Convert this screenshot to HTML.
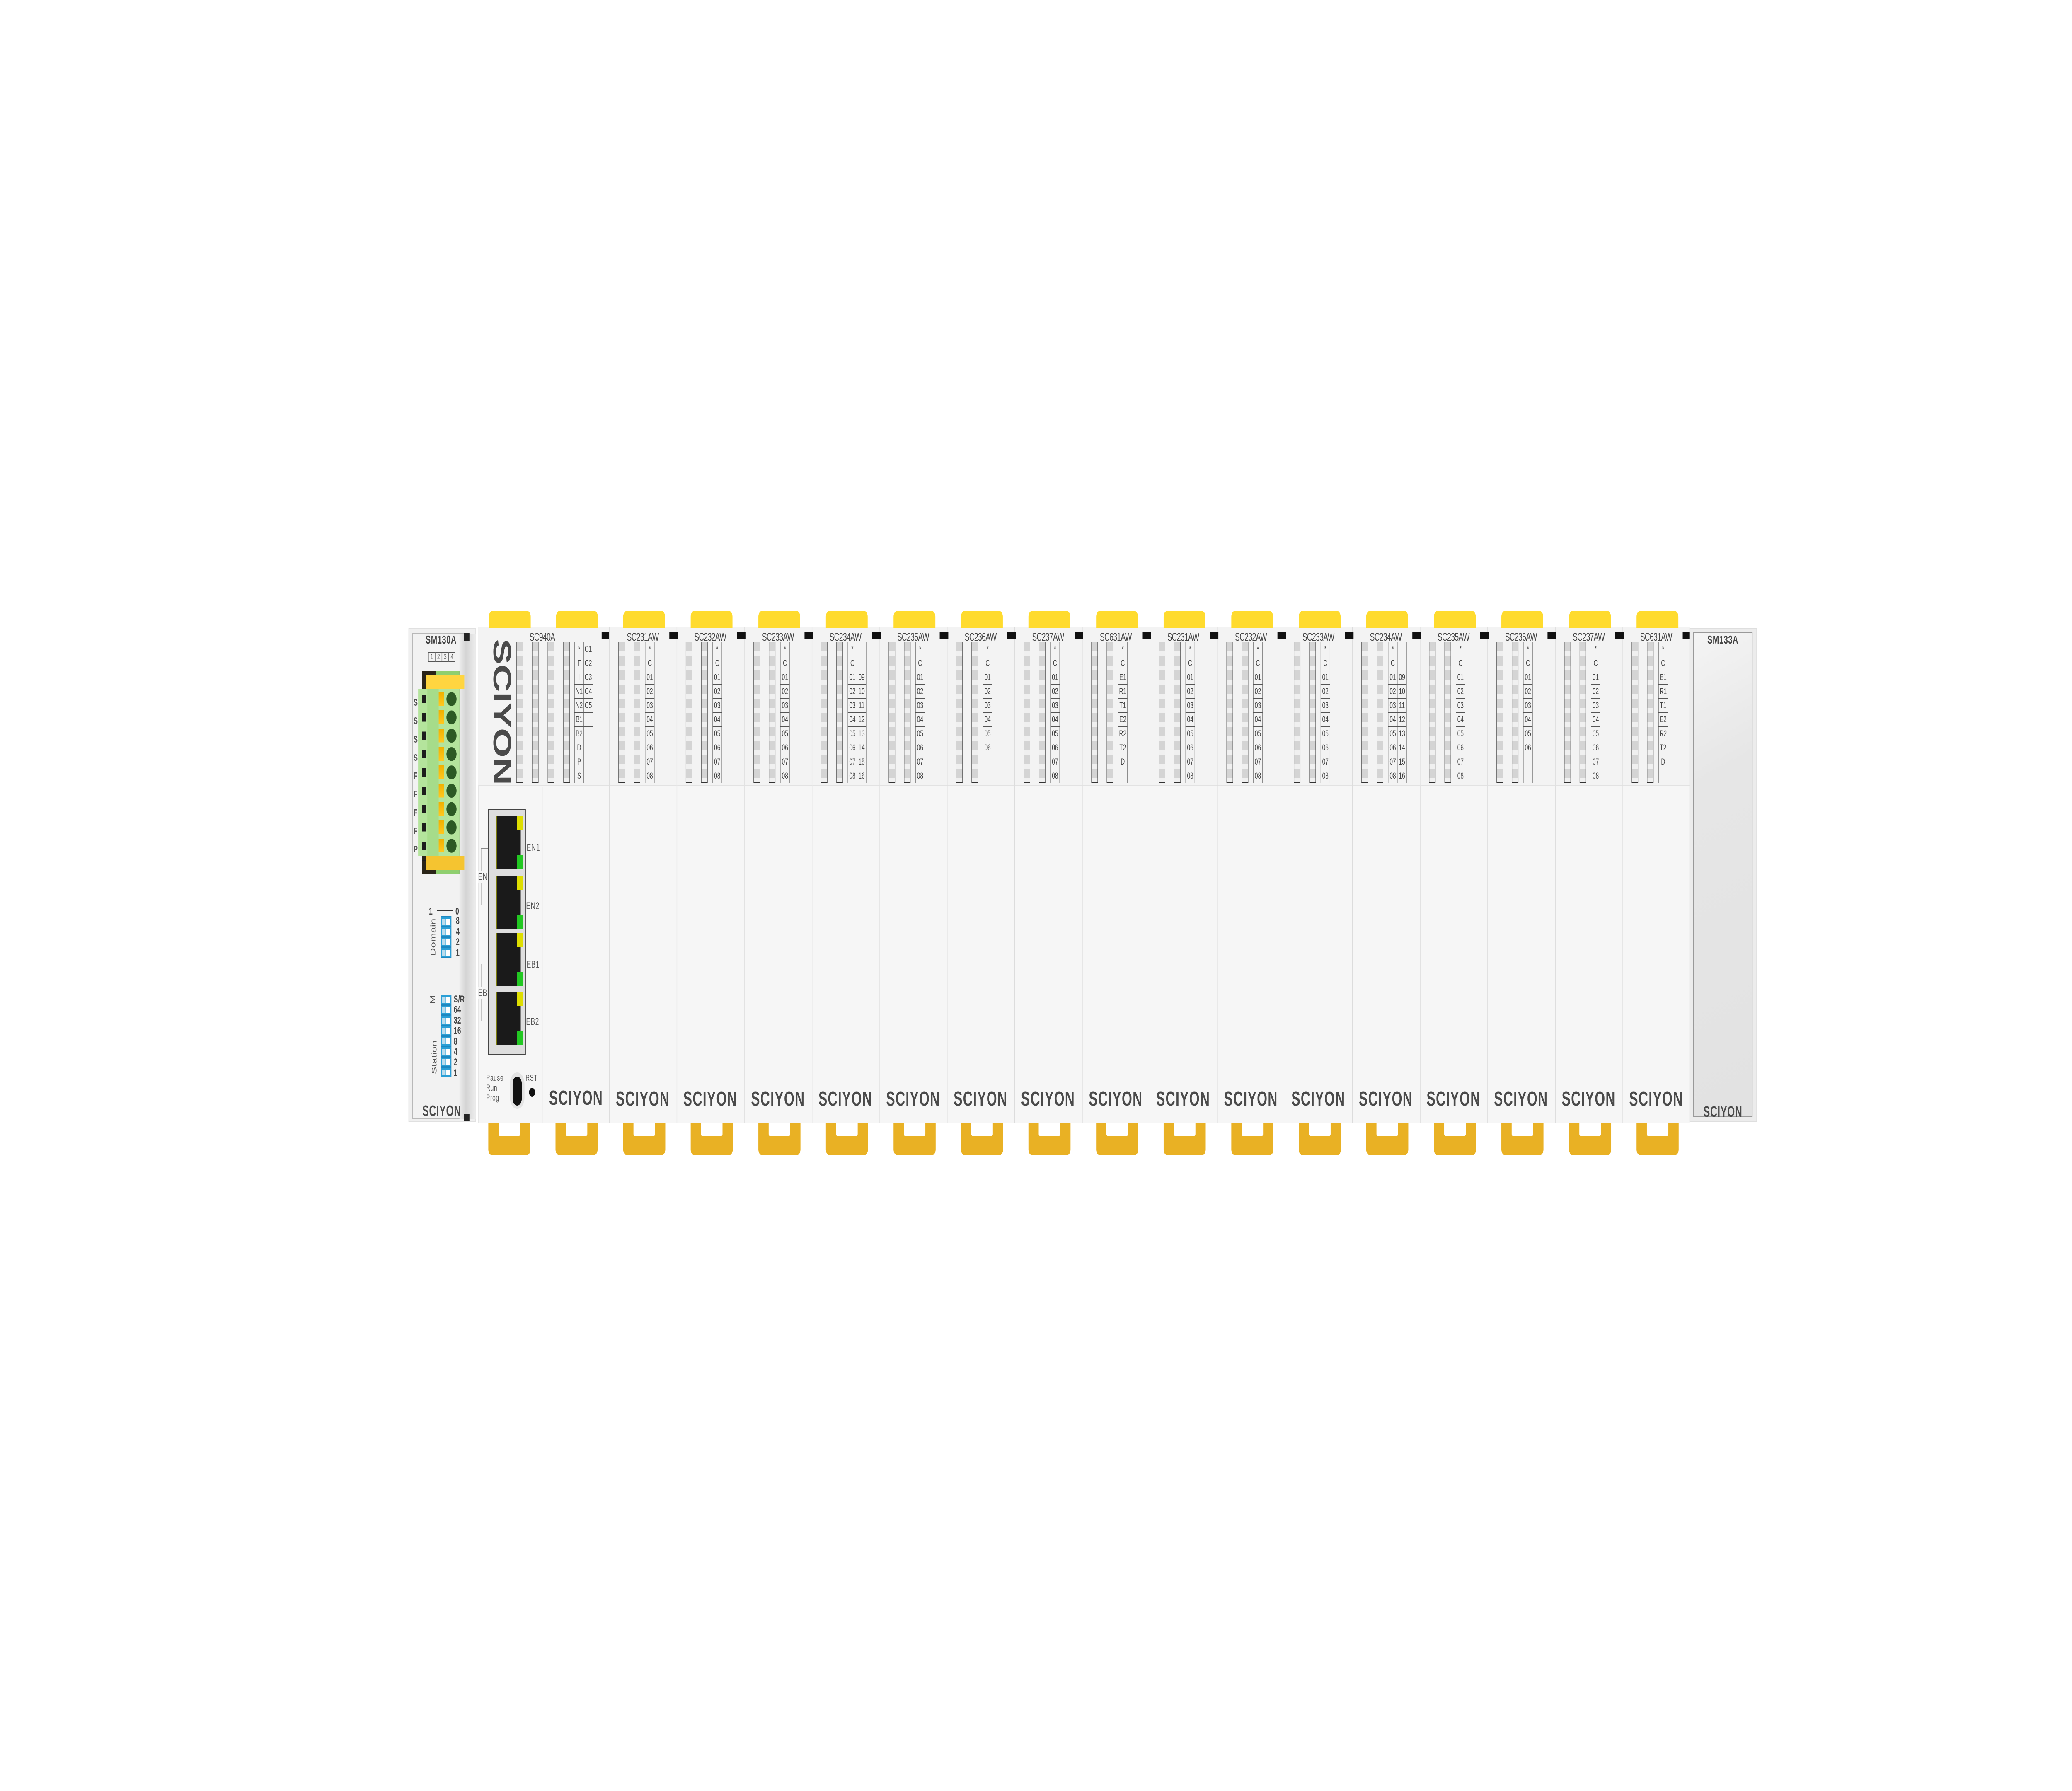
<!DOCTYPE html>
<html><head><meta charset="utf-8"><meta name="viewport" content="width=7680, height=4322, initial-scale=1"><style>
*{margin:0;padding:0;box-sizing:border-box}
html,body{margin:0;overflow:hidden;background:#fff}
#wrap{width:7680px;height:4322px;background:#fff;position:absolute;left:0;top:0;overflow:hidden;transform-origin:0 0;font-family:"Liberation Sans",sans-serif;color:#444}
.a{position:absolute}
.ct{position:absolute;top:1474px;width:155px;height:42px;background:#ffdb2e;border-radius:14px 14px 0 0}
.cb{position:absolute;top:2710px;width:156px;height:78px;background:#e9b124;border-radius:0 0 14px 14px}
.cb i{position:absolute;left:38px;top:0;width:80px;height:31px;background:#fff;border-radius:0 0 4px 4px}
.m{position:absolute;top:1512px;width:251px;height:1198px;background:#f6f6f6;border-left:2px solid #dcdcdc}
.m .up{position:absolute;left:0;top:0;width:249px;height:385px;background:#f3f3f3;border-bottom:3px solid #e2e2e2}
.m .lb{position:absolute;left:0;width:245px;top:10px;text-align:center;font-size:27px;letter-spacing:-1px}
.st{position:absolute;top:37px;width:24px;height:340px;border:1.5px solid #333;background:repeating-linear-gradient(#d4d4d4 0,#d4d4d4 22px,#f0f0f0 22px,#f0f0f0 34px)}
.tb{position:absolute;left:131px;top:37px;border-collapse:collapse}
.tb td{width:34px;height:34px;border:1.5px solid #555;font-size:21px;text-align:center;color:#444;padding:0}
.lg{position:absolute;left:0;width:245px;top:1112px;text-align:center;font-size:49px;font-weight:bold;color:#4a4a4a;letter-spacing:2px}
.nt{position:absolute;top:1525px;width:32px;height:18px;background:#111}
.rj{position:absolute;left:1838px;width:100px;height:128px}
.rj b{position:absolute;left:0;top:0;width:78px;height:128px;background:#1a1a1a;border-left:3px solid #c8c800}
.rj .y{position:absolute;left:78px;top:0;width:22px;height:34px;background:#dede00}
.rj .g{position:absolute;left:78px;top:94px;width:22px;height:34px;background:#22c822}
.rj .k{position:absolute;left:78px;top:34px;width:14px;height:60px;background:#1a1a1a}
.eth{position:absolute;font-size:24px;color:#555;letter-spacing:1px}
.dp{position:absolute;left:1633px;width:40px;height:25px;background:#2a9fd6;border:2px solid #1e88c0}
.dp i{position:absolute;right:3px;top:4px;width:14px;height:14px;background:#fff}
.dp s{position:absolute;left:3px;top:4px;width:14px;height:14px;background:#bde}
.dl{position:absolute;left:1690px;font-size:24px;font-weight:bold;color:#444}
</style></head><body>
<div id="wrap">

<!-- SM130A -->
<div class="a" style="left:1514px;top:1516px;width:250px;height:1192px;background:#f0f0f0;border:2px solid #e0e0e0"></div>
<div class="a" style="left:1528px;top:1528px;width:205px;height:1172px;border:2px solid #b8b8b8;background:#f2f2f2"></div>
<div class="a" style="left:1703px;top:1530px;width:60px;height:1170px;background:linear-gradient(90deg,#ececec,#d4d4d4 40%,#ededed)"></div>
<div class="a" style="left:1720px;top:1528px;width:20px;height:18px;background:#222"></div>
<div class="a" style="left:1720px;top:2688px;width:20px;height:16px;background:#222"></div>
<div class="a" style="left:1560px;top:1528px;width:150px;text-align:center;font-size:28px;font-weight:bold;letter-spacing:1px">SM130A</div>
<div class="a" style="left:1588px;top:1574px;font-size:18px;color:#555;display:flex"><span style="border:1.5px solid #555;width:25px;text-align:center">1</span><span style="border:1.5px solid #555;width:25px;text-align:center">2</span><span style="border:1.5px solid #555;width:25px;text-align:center">3</span><span style="border:1.5px solid #555;width:25px;text-align:center">4</span></div>
<div class="a" style="left:1564px;top:1619px;width:139px;height:489px;background:#2a2418"></div>
<div class="a" style="left:1617px;top:1619px;width:86px;height:489px;background:#8fcf6f"></div>
<div class="a" style="left:1550px;top:1662px;width:153px;height:403px;background:#b4e49c"></div>
<div class="a" style="left:1584px;top:1662px;width:42px;height:403px;background:#a6dc8a"></div>
<div class="a" style="left:1580px;top:1628px;width:141px;height:34px;background:#ffd540"></div>
<div class="a" style="left:1580px;top:2066px;width:141px;height:34px;background:#f5c430"></div>
<div class="a" style="left:1533px;top:1673px;font-size:23px;font-weight:bold;line-height:44.25px;color:#555">S<br>S<br>S<br>S<br>F<br>F<br>F<br>F<br>P</div>
<div class="a" style="left:1565px;top:1677px;width:14px;height:400px;background:repeating-linear-gradient(#1c1c1c 0,#1c1c1c 20px,transparent 20px,transparent 44.25px)"></div>
<div class="a" style="left:1626px;top:1670px;width:20px;height:392px;background:repeating-linear-gradient(#f0b000 0,#ffc820 33px,transparent 33px,transparent 44.25px)"></div>
<div class="a" style="left:1654px;top:1670px;width:39px;height:392px;background:radial-gradient(ellipse 19px 17px at 50% 17px,#2d5a24 97%,transparent 100%) 0 0/39px 44.25px repeat-y"></div>

<div class="a" style="left:1590px;top:2186px;font-size:24px;font-weight:bold;color:#444">1</div>
<div class="a" style="left:1620px;top:2196px;width:60px;height:3px;background:#333"></div>
<div class="a" style="left:1688px;top:2186px;font-size:24px;font-weight:bold;color:#444">0</div>
<div class="a" style="left:1550px;top:2246px;width:110px;font-size:26px;transform:rotate(-90deg);text-align:center;color:#555">Domain</div>
<div class="dp" style="top:2211px"><s></s><i></i></div><div class="dp" style="top:2236px"><s></s><i></i></div><div class="dp" style="top:2261px"><s></s><i></i></div><div class="dp" style="top:2286px"><s></s><i></i></div>
<div class="dl" style="top:2210px;line-height:25.5px">8<br>4<br>2<br>1</div>
<div class="a" style="left:1594px;top:2398px;font-size:24px;transform:rotate(-90deg);color:#555">M</div>
<div class="a" style="left:1560px;top:2536px;width:100px;font-size:26px;transform:rotate(-90deg);text-align:center;color:#555">Station</div>
<div class="dp" style="top:2400px"><s></s><i></i></div><div class="dp" style="top:2425px"><s></s><i></i></div><div class="dp" style="top:2450px"><s></s><i></i></div><div class="dp" style="top:2475px"><s></s><i></i></div><div class="dp" style="top:2500px"><s></s><i></i></div><div class="dp" style="top:2525px"><s></s><i></i></div><div class="dp" style="top:2550px"><s></s><i></i></div><div class="dp" style="top:2575px"><s></s><i></i></div>
<div class="dl" style="left:1682px;top:2399px;line-height:25.4px">S/R<br>64<br>32<br>16<br>8<br>4<br>2<br>1</div>
<div class="a" style="left:1560px;top:2660px;width:155px;text-align:center;font-size:36px;font-weight:bold;color:#4a4a4a;letter-spacing:1px">SCIYON</div>

<!-- SC940A -->
<div class="a" style="left:1773px;top:1512px;width:487px;height:1198px;background:#f6f6f6;border-left:2px solid #dcdcdc"></div>
<div class="a" style="left:1773px;top:1512px;width:485px;height:385px;background:#f3f3f3;border-bottom:3px solid #e2e2e2"></div>
<div class="a" style="left:2009px;top:1900px;width:2px;height:810px;background:#dcdcdc"></div>
<div class="a" style="left:1935px;top:1522px;width:150px;text-align:center;font-size:27px;letter-spacing:-1px">SC940A</div>
<div class="a" style="left:1686px;top:1671px;width:348px;text-align:center;font-size:92px;font-weight:bold;color:#4a4a4a;transform:rotate(90deg);line-height:90px">SCIYON</div>
<div class="st" style="left:1914px;top:1549px"></div>
<div class="st" style="left:1972px;top:1549px"></div>
<div class="st" style="left:2030px;top:1549px"></div>
<div class="st" style="left:2088px;top:1549px"></div>
<table class="tb" style="left:2129px;top:1549px"><tr><td>*</td><td>C1</td></tr><tr><td>F</td><td>C2</td></tr><tr><td>I</td><td>C3</td></tr><tr><td>N1</td><td>C4</td></tr><tr><td>N2</td><td>C5</td></tr><tr><td>B1</td><td></td></tr><tr><td>B2</td><td></td></tr><tr><td>D</td><td></td></tr><tr><td>P</td><td></td></tr><tr><td>S</td><td></td></tr></table>
<div class="nt" style="left:2230px"></div>
<div class="a" style="left:1809px;top:1953px;width:140px;height:592px;border:2px solid #444;background:#dedede"></div>
<div class="rj" style="top:1970px"><b></b><span class="k"></span><span class="y"></span><span class="g"></span></div>
<div class="rj" style="top:2113px"><b></b><span class="k"></span><span class="y"></span><span class="g"></span></div>
<div class="rj" style="top:2252px"><b></b><span class="k"></span><span class="y"></span><span class="g"></span></div>
<div class="rj" style="top:2393px"><b></b><span class="k"></span><span class="y"></span><span class="g"></span></div>
<div class="eth" style="left:1952px;top:2032px">EN1</div>
<div class="eth" style="left:1950px;top:2173px">EN2</div>
<div class="eth" style="left:1952px;top:2314px">EB1</div>
<div class="eth" style="left:1950px;top:2452px">EB2</div>
<div class="a" style="left:1783px;top:2047px;width:25px;height:138px;border:1.5px solid #888;border-right:none;background:#f6f6f6"></div>
<div class="a" style="left:1783px;top:2326px;width:25px;height:139px;border:1.5px solid #888;border-right:none;background:#f6f6f6"></div>
<div class="eth" style="left:1772px;top:2102px;background:#f6f6f6">EN</div>
<div class="eth" style="left:1772px;top:2383px;background:#f6f6f6">EB</div>
<div class="a" style="left:1802px;top:2590px;font-size:21px;line-height:24px;color:#555;letter-spacing:1px">Pause<br>Run<br>Prog</div>
<div class="a" style="left:1890px;top:2588px;width:54px;height:88px;border-radius:27px;background:#e4e4e4"></div>
<div class="a" style="left:1900px;top:2598px;width:34px;height:70px;border-radius:17px;background:#111"></div>
<div class="a" style="left:1948px;top:2590px;font-size:21px;color:#555;letter-spacing:1px">RST</div>
<div class="a" style="left:1961px;top:2625px;width:22px;height:22px;border-radius:50%;background:#111"></div>
<div class="a" style="left:2010px;top:2622px;width:250px;text-align:center;font-size:49px;font-weight:bold;color:#4a4a4a;letter-spacing:2px">SCIYON</div>
<div class="ct" style="left:1812px"></div><div class="ct" style="left:2061px"></div>
<div class="cb" style="left:1810px"><i></i></div><div class="cb" style="left:2059px"><i></i></div>

<!-- I/O modules -->
<div class="m" style="left:2258px"><div class="up"></div><div class="lb">SC231AW</div><div class="st" style="left:32px"></div><div class="st" style="left:89px"></div><table class="tb"><tr><td>*</td></tr><tr><td>C</td></tr><tr><td>01</td></tr><tr><td>02</td></tr><tr><td>03</td></tr><tr><td>04</td></tr><tr><td>05</td></tr><tr><td>06</td></tr><tr><td>07</td></tr><tr><td>08</td></tr></table><div class="lg">SCIYON</div></div>
<div class="m" style="left:2508px"><div class="up"></div><div class="lb">SC232AW</div><div class="st" style="left:32px"></div><div class="st" style="left:89px"></div><table class="tb"><tr><td>*</td></tr><tr><td>C</td></tr><tr><td>01</td></tr><tr><td>02</td></tr><tr><td>03</td></tr><tr><td>04</td></tr><tr><td>05</td></tr><tr><td>06</td></tr><tr><td>07</td></tr><tr><td>08</td></tr></table><div class="lg">SCIYON</div></div>
<div class="m" style="left:2759px"><div class="up"></div><div class="lb">SC233AW</div><div class="st" style="left:32px"></div><div class="st" style="left:89px"></div><table class="tb"><tr><td>*</td></tr><tr><td>C</td></tr><tr><td>01</td></tr><tr><td>02</td></tr><tr><td>03</td></tr><tr><td>04</td></tr><tr><td>05</td></tr><tr><td>06</td></tr><tr><td>07</td></tr><tr><td>08</td></tr></table><div class="lg">SCIYON</div></div>
<div class="m" style="left:3009px"><div class="up"></div><div class="lb">SC234AW</div><div class="st" style="left:32px"></div><div class="st" style="left:89px"></div><table class="tb"><tr><td>*</td><td></td></tr><tr><td>C</td><td></td></tr><tr><td>01</td><td>09</td></tr><tr><td>02</td><td>10</td></tr><tr><td>03</td><td>11</td></tr><tr><td>04</td><td>12</td></tr><tr><td>05</td><td>13</td></tr><tr><td>06</td><td>14</td></tr><tr><td>07</td><td>15</td></tr><tr><td>08</td><td>16</td></tr></table><div class="lg">SCIYON</div></div>
<div class="m" style="left:3260px"><div class="up"></div><div class="lb">SC235AW</div><div class="st" style="left:32px"></div><div class="st" style="left:89px"></div><table class="tb"><tr><td>*</td></tr><tr><td>C</td></tr><tr><td>01</td></tr><tr><td>02</td></tr><tr><td>03</td></tr><tr><td>04</td></tr><tr><td>05</td></tr><tr><td>06</td></tr><tr><td>07</td></tr><tr><td>08</td></tr></table><div class="lg">SCIYON</div></div>
<div class="m" style="left:3510px"><div class="up"></div><div class="lb">SC236AW</div><div class="st" style="left:32px"></div><div class="st" style="left:89px"></div><table class="tb"><tr><td>*</td></tr><tr><td>C</td></tr><tr><td>01</td></tr><tr><td>02</td></tr><tr><td>03</td></tr><tr><td>04</td></tr><tr><td>05</td></tr><tr><td>06</td></tr><tr><td></td></tr><tr><td></td></tr></table><div class="lg">SCIYON</div></div>
<div class="m" style="left:3760px"><div class="up"></div><div class="lb">SC237AW</div><div class="st" style="left:32px"></div><div class="st" style="left:89px"></div><table class="tb"><tr><td>*</td></tr><tr><td>C</td></tr><tr><td>01</td></tr><tr><td>02</td></tr><tr><td>03</td></tr><tr><td>04</td></tr><tr><td>05</td></tr><tr><td>06</td></tr><tr><td>07</td></tr><tr><td>08</td></tr></table><div class="lg">SCIYON</div></div>
<div class="m" style="left:4011px"><div class="up"></div><div class="lb">SC631AW</div><div class="st" style="left:32px"></div><div class="st" style="left:89px"></div><table class="tb"><tr><td>*</td></tr><tr><td>C</td></tr><tr><td>E1</td></tr><tr><td>R1</td></tr><tr><td>T1</td></tr><tr><td>E2</td></tr><tr><td>R2</td></tr><tr><td>T2</td></tr><tr><td>D</td></tr><tr><td></td></tr></table><div class="lg">SCIYON</div></div>
<div class="m" style="left:4261px"><div class="up"></div><div class="lb">SC231AW</div><div class="st" style="left:32px"></div><div class="st" style="left:89px"></div><table class="tb"><tr><td>*</td></tr><tr><td>C</td></tr><tr><td>01</td></tr><tr><td>02</td></tr><tr><td>03</td></tr><tr><td>04</td></tr><tr><td>05</td></tr><tr><td>06</td></tr><tr><td>07</td></tr><tr><td>08</td></tr></table><div class="lg">SCIYON</div></div>
<div class="m" style="left:4512px"><div class="up"></div><div class="lb">SC232AW</div><div class="st" style="left:32px"></div><div class="st" style="left:89px"></div><table class="tb"><tr><td>*</td></tr><tr><td>C</td></tr><tr><td>01</td></tr><tr><td>02</td></tr><tr><td>03</td></tr><tr><td>04</td></tr><tr><td>05</td></tr><tr><td>06</td></tr><tr><td>07</td></tr><tr><td>08</td></tr></table><div class="lg">SCIYON</div></div>
<div class="m" style="left:4762px"><div class="up"></div><div class="lb">SC233AW</div><div class="st" style="left:32px"></div><div class="st" style="left:89px"></div><table class="tb"><tr><td>*</td></tr><tr><td>C</td></tr><tr><td>01</td></tr><tr><td>02</td></tr><tr><td>03</td></tr><tr><td>04</td></tr><tr><td>05</td></tr><tr><td>06</td></tr><tr><td>07</td></tr><tr><td>08</td></tr></table><div class="lg">SCIYON</div></div>
<div class="m" style="left:5012px"><div class="up"></div><div class="lb">SC234AW</div><div class="st" style="left:32px"></div><div class="st" style="left:89px"></div><table class="tb"><tr><td>*</td><td></td></tr><tr><td>C</td><td></td></tr><tr><td>01</td><td>09</td></tr><tr><td>02</td><td>10</td></tr><tr><td>03</td><td>11</td></tr><tr><td>04</td><td>12</td></tr><tr><td>05</td><td>13</td></tr><tr><td>06</td><td>14</td></tr><tr><td>07</td><td>15</td></tr><tr><td>08</td><td>16</td></tr></table><div class="lg">SCIYON</div></div>
<div class="m" style="left:5263px"><div class="up"></div><div class="lb">SC235AW</div><div class="st" style="left:32px"></div><div class="st" style="left:89px"></div><table class="tb"><tr><td>*</td></tr><tr><td>C</td></tr><tr><td>01</td></tr><tr><td>02</td></tr><tr><td>03</td></tr><tr><td>04</td></tr><tr><td>05</td></tr><tr><td>06</td></tr><tr><td>07</td></tr><tr><td>08</td></tr></table><div class="lg">SCIYON</div></div>
<div class="m" style="left:5513px"><div class="up"></div><div class="lb">SC236AW</div><div class="st" style="left:32px"></div><div class="st" style="left:89px"></div><table class="tb"><tr><td>*</td></tr><tr><td>C</td></tr><tr><td>01</td></tr><tr><td>02</td></tr><tr><td>03</td></tr><tr><td>04</td></tr><tr><td>05</td></tr><tr><td>06</td></tr><tr><td></td></tr><tr><td></td></tr></table><div class="lg">SCIYON</div></div>
<div class="m" style="left:5764px"><div class="up"></div><div class="lb">SC237AW</div><div class="st" style="left:32px"></div><div class="st" style="left:89px"></div><table class="tb"><tr><td>*</td></tr><tr><td>C</td></tr><tr><td>01</td></tr><tr><td>02</td></tr><tr><td>03</td></tr><tr><td>04</td></tr><tr><td>05</td></tr><tr><td>06</td></tr><tr><td>07</td></tr><tr><td>08</td></tr></table><div class="lg">SCIYON</div></div>
<div class="m" style="left:6014px"><div class="up"></div><div class="lb">SC631AW</div><div class="st" style="left:32px"></div><div class="st" style="left:89px"></div><table class="tb"><tr><td>*</td></tr><tr><td>C</td></tr><tr><td>E1</td></tr><tr><td>R1</td></tr><tr><td>T1</td></tr><tr><td>E2</td></tr><tr><td>R2</td></tr><tr><td>T2</td></tr><tr><td>D</td></tr><tr><td></td></tr></table><div class="lg">SCIYON</div></div>

<!-- notches -->
<div class="nt" style="left:2481px"></div><div class="nt" style="left:2731px"></div><div class="nt" style="left:2982px"></div><div class="nt" style="left:3232px"></div><div class="nt" style="left:3483px"></div><div class="nt" style="left:3733px"></div><div class="nt" style="left:3983px"></div><div class="nt" style="left:4234px"></div><div class="nt" style="left:4484px"></div><div class="nt" style="left:4735px"></div><div class="nt" style="left:4985px"></div><div class="nt" style="left:5235px"></div><div class="nt" style="left:5486px"></div><div class="nt" style="left:5736px"></div><div class="nt" style="left:5987px"></div><div class="nt" style="left:6237px"></div>

<!-- clips -->
<div class="ct" style="left:2310px"></div><div class="ct" style="left:2560px"></div><div class="ct" style="left:2811px"></div><div class="ct" style="left:3061px"></div><div class="ct" style="left:3312px"></div><div class="ct" style="left:3562px"></div><div class="ct" style="left:3812px"></div><div class="ct" style="left:4063px"></div><div class="ct" style="left:4313px"></div><div class="ct" style="left:4564px"></div><div class="ct" style="left:4814px"></div><div class="ct" style="left:5064px"></div><div class="ct" style="left:5315px"></div><div class="ct" style="left:5565px"></div><div class="ct" style="left:5816px"></div><div class="ct" style="left:6066px"></div>
<div class="cb" style="left:2310px"><i></i></div><div class="cb" style="left:2560px"><i></i></div><div class="cb" style="left:2811px"><i></i></div><div class="cb" style="left:3061px"><i></i></div><div class="cb" style="left:3312px"><i></i></div><div class="cb" style="left:3562px"><i></i></div><div class="cb" style="left:3812px"><i></i></div><div class="cb" style="left:4063px"><i></i></div><div class="cb" style="left:4313px"><i></i></div><div class="cb" style="left:4564px"><i></i></div><div class="cb" style="left:4814px"><i></i></div><div class="cb" style="left:5064px"><i></i></div><div class="cb" style="left:5315px"><i></i></div><div class="cb" style="left:5565px"><i></i></div><div class="cb" style="left:5816px"><i></i></div><div class="cb" style="left:6066px"><i></i></div>

<!-- SM133A -->
<div class="a" style="left:6262px;top:1516px;width:250px;height:1192px;background:#ececec;border:2px solid #dedede"></div>
<div class="a" style="left:6276px;top:1526px;width:220px;height:1170px;border:2px solid #999;background:linear-gradient(160deg,#f4f4f4,#e6e6e6 30%,#e2e2e2)"></div>
<div class="a" style="left:6276px;top:1528px;width:220px;text-align:center;font-size:28px;font-weight:bold;color:#444;letter-spacing:1px">SM133A</div>
<div class="a" style="left:6276px;top:2662px;width:220px;text-align:center;font-size:36px;font-weight:bold;color:#4a4a4a;letter-spacing:1px">SCIYON</div>
</div>
<script>
(function(){var w=document.getElementById('wrap');function f(){var sx=window.innerWidth/7680,sy=window.innerHeight/4322;if(Math.abs(sx-1)<0.002&&Math.abs(sy-1)<0.002){w.style.transform='none';}else{w.style.transform='scale('+sx+','+sy+')';}}f();window.addEventListener('resize',f);})();
</script>
</body></html>
